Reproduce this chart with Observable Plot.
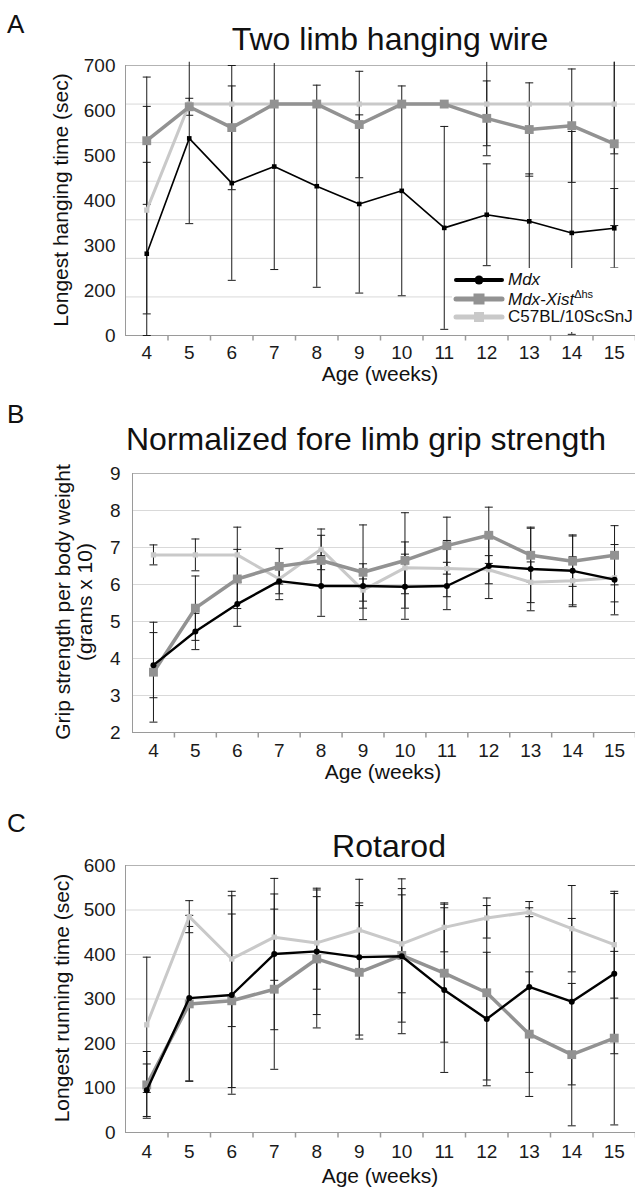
<!DOCTYPE html>
<html><head><meta charset="utf-8">
<script src="https://cdn.jsdelivr.net/npm/d3@7"></script>
<script src="https://cdn.jsdelivr.net/npm/@observablehq/plot@0.6"></script>
<style>
body{margin:0;background:#fff;}
#wrap{position:relative;width:635px;height:1188px;overflow:hidden;font-family:"Liberation Sans",Arial,sans-serif;color:#111;background:#fff;}
.panel{position:absolute;left:0;}
#overlay{position:absolute;left:0;top:0;pointer-events:none;}
#legend{position:absolute;left:452px;top:268px;width:183px;height:61px;background:#fff;font-size:17px;}
#legend .row{height:18.5px;display:flex;align-items:center;white-space:nowrap;}
#legend svg{flex:none;margin-right:3px;}
</style></head><body><div id="wrap"></div>
<script>
// ---------- data ----------
const weeks = [4,5,6,7,8,9,10,11,12,13,14,15];

// Panel A: Two limb hanging wire (sec)
const hangMdx     = [212, 511, 395, 438, 387, 341, 375, 279, 313, 296, 266, 278];
const hangMdxErr  = [237, 221, 252, 267, 262, 231, 272, 263, 132, 123, 263, 103];
const hangXist    = [505, 593, 539, 600, 600, 547, 600, 600, 563, 534, 544, 497];
const hangXistErr = [165, 22, 161, 0, 0, 138, 0, 0, 97, 121, 147, 212];
const hangC57     = [325, 600, 600, 600, 600, 600, 600, 600, 600, 600, 600, 600];
const hangC57Err  = [269, 0, 0, 0, 0, 0, 0, 0, 108, 0, 0, 129];
const hangTickLabels = ["0", "200", "300", "400", "500", "600", "700"];
const hangGrid = [0, 100, 200, 300, 400, 500, 600, 700];

// Panel B: Normalized fore limb grip strength
const gripMdx     = [3.82, 4.73, 5.47, 6.09, 5.96, 5.96, 5.94, 5.96, 6.50, 6.42, 6.37, 6.13];
const gripMdxErr  = [0.88, 0.49, 0.60, 0.50, 0.82, 0.60, 0.88, 0.64, 0.88, 1.13, 0.97, 0.95];
const gripXist    = [3.63, 5.36, 6.15, 6.49, 6.65, 6.33, 6.65, 7.05, 7.33, 6.79, 6.63, 6.79];
const gripXistErr = [1.35, 0.87, 0.80, 0.48, 0.68, 1.28, 1.29, 0.77, 0.76, 0.73, 0.68, 0.80];
const gripC57     = [6.80, 6.80, 6.80, 6.15, 6.95, 5.85, 6.45, 6.43, 6.40, 6.06, 6.10, 6.18];
const gripC57Err  = [0.27, 0.43, 0.75, 0.40, 0.55, 0.30, 0.70, 0.76, 0.38, 0.55, 0.65, 0.65];
const gripTicks = [2, 3, 4, 5, 6, 7, 8, 9];

// Panel C: Rotarod (sec)
const rotaMdx     = [95, 302, 309, 401, 407, 394, 396, 320, 255, 327, 294, 357];
const rotaMdxErr  = [59, 186, 223, 170, 142, 175, 174, 185, 150, 192, 187, 180];
const rotaXist    = [107, 289, 296, 322, 390, 360, 398, 358, 314, 221, 175, 212];
const rotaXistErr = [75, 174, 195, 180, 155, 150, 150, 155, 196, 140, 160, 195];
const rotaC57     = [242, 485, 390, 439, 426, 455, 424, 461, 482, 495, 458, 422];
const rotaC57Err  = [152, 36, 152, 97, 104, 61, 110, 55, 45, 10, 97, 120];
const rotaTicks = [0, 100, 200, 300, 400, 500, 600];

// ---------- styles ----------
const FONT = "Liberation Sans, Arial, sans-serif";
const C_BLACK = "#000", C_GRAY = "#929292", C_LIGHT = "#c9c9c9", C_ERR = "#1a1a1a";
const capSym = {draw(ctx, size){const w = Math.sqrt(size/Math.PI); ctx.moveTo(-w,0); ctx.lineTo(w,0);}};
const vtickSym = {draw(ctx, size){const w = Math.sqrt(size/Math.PI); ctx.moveTo(0,0); ctx.lineTo(0,w);}};

function rows(vals, errs){ return weeks.map((w,i)=>({week:w, v:vals[i], e:errs[i]})); }

function panel(cfg){
  const [y0, y1] = cfg.yDomain;
  const over = (y1 - y0) * 0.012;
  const series = [
    {d: rows(cfg.c57, cfg.c57Err), color: C_LIGHT, sw: 3, sym: "square", r: 3},
    {d: rows(cfg.xist, cfg.xistErr), color: C_GRAY, sw: 3.5, sym: "square", r: 5},
    {d: rows(cfg.mdx, cfg.mdxErr), color: C_BLACK, sw: cfg.blackW, sym: cfg.blackSym, r: cfg.blackR}
  ];
  const errRows = series.flatMap(s => s.d.filter(d => d.e > 0)).map(d => ({week:d.week, lo:Math.max(y0, d.v-d.e), hi:d.v+d.e}));
  const errDraw = errRows.map(d => ({week:d.week, lo:d.lo, hi:Math.min(d.hi, y1 + over)}));
  const caps = errRows.flatMap(d => d.hi > y1 + over * 0.5 ? [{week:d.week, y:d.lo}] : [{week:d.week, y:d.lo}, {week:d.week, y:d.hi}]);
  const xMin = weeks[0]-0.5, xMax = weeks[weeks.length-1]+0.5;
  const marks = [
    Plot.ruleY(cfg.grid.filter(g => g !== y0 && g !== y1), {stroke:"#d9d9d9", strokeWidth:1}),
    Plot.ruleY([y1], {stroke:"#b3b3b3", strokeWidth:1}),
    Plot.ruleY([y0], {stroke:"#9a9a9a", strokeWidth:1}),
    Plot.ruleX([xMin], {stroke:"#9a9a9a", strokeWidth:1}),
    Plot.dot(weeks.map(w => w+0.5), {x:d=>d, y:()=>y0, symbol:vtickSym, r:5, stroke:"#9a9a9a", fill:"none"}),
    Plot.ruleX(errDraw, {x:"week", y1:"lo", y2:"hi", stroke:C_ERR, strokeWidth:1}),
    Plot.dot(caps, {x:"week", y:"y", symbol:capSym, r:4, stroke:C_ERR, fill:"none", strokeWidth:1})
  ];
  for (const s of series) {
    marks.push(Plot.line(s.d, {x:"week", y:"v", stroke:s.color, strokeWidth:s.sw, curve:"linear"}));
    marks.push(Plot.dot(s.d, {x:"week", y:"v", symbol:s.sym, r:s.r, fill:s.color, stroke:"none"}));
  }
  marks.push(Plot.text(weeks, {x:d=>d, text:d=>String(d), frameAnchor:"bottom", dy:cfg.xLabelDy, lineAnchor:"middle", fontSize:19, fill:"#1a1a1a"}));
  marks.push(Plot.text(cfg.yLabels, {y:d=>d.v, text:d=>d.t, frameAnchor:"left", textAnchor:"end", dx:-cfg.yLabelGap, lineAnchor:"middle", fontSize:19, fill:"#1a1a1a"}));
  return Plot.plot({
    width: 635, height: cfg.height,
    marginLeft: cfg.left, marginRight: 0, marginTop: cfg.top, marginBottom: cfg.bottom,
    x: {type:"linear", domain:[xMin, xMax], axis:null},
    y: {type:"linear", domain:cfg.yDomain, axis:null},
    style: {fontFamily: FONT, background:"transparent", overflow:"visible"},
    marks
  });
}

const wrap = document.getElementById("wrap");
function place(node, top){ node.classList.add("panel"); node.style.top = top + "px"; wrap.appendChild(node); }

// Panel A (plot area y 65..335)
place(panel({
  yDomain:[0,700], grid:hangGrid, height:345, top:20, bottom:55, left:125,
  mdx:hangMdx, mdxErr:hangMdxErr, xist:hangXist, xistErr:hangXistErr, c57:hangC57, c57Err:hangC57Err,
  blackW:1.6, blackSym:"square", blackR:2.6,
  yLabels: hangTickLabels.map((t,i)=>({t, v: 700*i/(hangTickLabels.length-1)})),
  yLabelGap:10, xLabelDy:17
}), 45);

// Panel B (plot area y 473..732)
place(panel({
  yDomain:[2,9], grid:gripTicks, height:329, top:10, bottom:60, left:132,
  mdx:gripMdx, mdxErr:gripMdxErr, xist:gripXist, xistErr:gripXistErr, c57:gripC57, c57Err:gripC57Err,
  blackW:2.4, blackSym:"circle", blackR:3,
  yLabels: gripTicks.map(t=>({t:String(t), v:t})),
  yLabelGap:12, xLabelDy:18
}), 463);

// Panel C (plot area y 865..1132)
place(panel({
  yDomain:[0,600], grid:rotaTicks, height:333, top:10, bottom:56, left:125,
  mdx:rotaMdx, mdxErr:rotaMdxErr, xist:rotaXist, xistErr:rotaXistErr, c57:rotaC57, c57Err:rotaC57Err,
  blackW:2.4, blackSym:"circle", blackR:3,
  yLabels: rotaTicks.map(t=>({t:String(t), v:t})),
  yLabelGap:10, xLabelDy:19
}), 855);

// ---------- text overlay ----------
const ov = d3.select(wrap).append("svg").attr("id","overlay").attr("width",635).attr("height",1188)
  .style("font-family", FONT).attr("fill","#111");
const letters = [["A",33],["B",423],["C",832]];
letters.forEach(([t,y]) => ov.append("text").attr("x",7).attr("y",y).attr("font-size",26).text(t));
const titles = [["Two limb hanging wire",390,50],["Normalized fore limb grip strength",366,450],["Rotarod",389,857]];
titles.forEach(([t,x,y]) => ov.append("text").attr("x",x).attr("y",y).attr("text-anchor","middle").attr("font-size",32).text(t));
const xTitles = [[380,381],[383,779],[380,1183]];
xTitles.forEach(([x,y]) => ov.append("text").attr("x",x).attr("y",y).attr("text-anchor","middle").attr("font-size",21).text("Age (weeks)"));
const yTitles = [["Longest hanging time (sec)",68,200],["Grip strength per body weight",70,602],["(grams x 10)",92,602],["Longest running time (sec)",69,998]];
yTitles.forEach(([t,x,y]) => ov.append("text").attr("transform",`translate(${x},${y}) rotate(-90)`).attr("text-anchor","middle").attr("font-size",21).text(t));

// ---------- legend ----------
const legend = document.createElement("div");
legend.id = "legend";
const legendItems = [
  {html:'<i>Mdx</i>', color:C_BLACK, w:4, sym:"circle", s:4.5},
  {html:'<i>Mdx-Xist</i><sup style="font-size:11px">Δhs</sup>', color:C_GRAY, w:5, sym:"square", s:11},
  {html:'C57BL/10ScSnJ', color:C_LIGHT, w:5, sym:"square", s:10}
];
legend.innerHTML = legendItems.map(it => {
  const m = it.sym === "circle"
    ? `<circle cx="27" cy="9" r="${it.s}" fill="${it.color}"/>`
    : `<rect x="${27-it.s/2}" y="${9-it.s/2}" width="${it.s}" height="${it.s}" fill="${it.color}"/>`;
  return `<div class="row"><svg width="53" height="18"><line x1="4" x2="50" y1="9" y2="9" stroke="${it.color}" stroke-width="${it.w}" stroke-linecap="round"/>${m}</svg><span>${it.html}</span></div>`;
}).join("");
legend.style.paddingTop = "3px";
wrap.appendChild(legend);
</script></body></html>
